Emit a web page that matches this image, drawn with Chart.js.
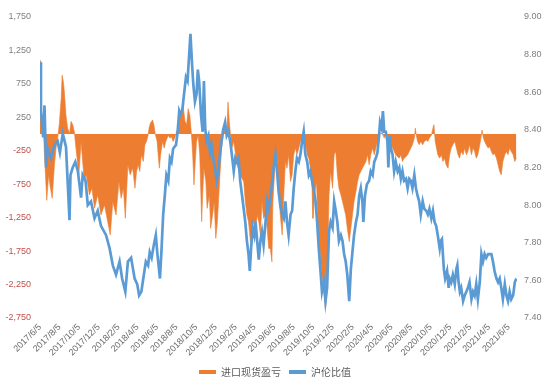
<!DOCTYPE html>
<html>
<head>
<meta charset="utf-8">
<script src="https://cdn.jsdelivr.net/npm/chart.js@4"></script>
<style>
html,body{margin:0;padding:0;background:#fff;}
#wrap{position:relative;width:550px;height:387px;}
</style>
</head>
<body>
<div id="wrap"><canvas id="c"></canvas></div>
<script>
// ---- data (days counted from 2017/6/5) ----
const startDate = '2017/6/5';
const tickLabels = ['2017/6/5','2017/8/5','2017/10/5','2017/12/5','2018/2/5','2018/4/5','2018/6/5','2018/8/5','2018/10/5','2018/12/5','2019/2/5','2019/4/5','2019/6/5','2019/8/5','2019/10/5','2019/12/5','2020/2/5','2020/4/5','2020/6/5','2020/8/5','2020/10/5','2020/12/5','2021/2/5','2021/4/5','2021/6/5'];
const leftTicks = [1750,1250,750,250,-250,-750,-1250,-1750,-2250,-2750];
const rightTicks = [9.0,8.8,8.6,8.4,8.2,8.0,7.8,7.6,7.4];

const pnlDays = [
0,2,6,10,14,21,27,31,38,45,50,55,60,66,69,73,76,81,86,92,97,102,107,112,121,128,133,138,144,154,162,170,180,190,201,211,219,227,237,246,253,260,266,274,281,289,
296,301,306,311,316,322,327,332,337,340,344,351,355,359,365,372,376,382,387,392,400,405,410,415,420,426,431,436,441,446,452,457,462,467,472,476,480,484,488,493,498,504,507,511,517,521,528,532,538,543,548,553,557,561,566,571,577,582,586,590,
598,604,614,624,635,640,645,650,656,661,666,671,677,682,687,692,697,703,708,713,718,723,726,731,735,739,744,749,755,760,765,770,775,781,786,791,796,801,807,812,817,822,827,833,838,843,848,851,856,862,866,870,874,879,885,890,895,
901,906,912,917,922,927,932,938,943,948,953,958,964,969,974,979,985,990,995,1000,1005,1011,1016,1021,1026,1031,1037,1042,1047,1052,1057,1063,1068,1073,1078,1083,1089,1094,1099,1104,1109,1115,1120,1125,1130,1135,1141,1146,1151,1156,1161,1167,1170,1173,1177,1182,1187,1193,1198,
1204,1209,1214,1220,1225,1228,1232,1236,1240,1246,1251,1256,1261,1266,1272,1277,1282,1287,1293,1298,1303,1308,1313,1319,1324,1329,1334,1339,1345,1350,1355,1360,1365,1371,1376,1378,1382,1386,1391,1397,1402,1407,1412,1417,1423,1428,1433,1438,1443,1449,1454,1459,1464,1469,1475,1480,1485];
const pnlValues = [
1100,320,260,120,-310,-990,-610,-760,-960,-460,-210,-60,140,530,880,780,630,280,90,10,190,140,40,-210,-610,-120,-410,-710,-610,-910,-810,-1110,-910,-1210,-1060,-1310,-1510,-1010,-1210,-710,-960,-810,-1260,-460,-610,-510,
-810,-560,-460,-560,-310,-410,-160,-110,-20,90,160,210,140,10,-110,-510,-310,-110,-210,-110,-20,-60,-40,-110,-60,40,90,280,330,430,190,140,380,280,10,-310,-760,-410,-110,-20,-310,-1310,-910,-510,-710,-1110,-910,-1410,-1210,-1010,-1560,-1310,-960,-610,-210,-20,140,-20,480,190,
-210,-110,-460,-610,-710,-1010,-1210,-1310,-1610,-1410,-1310,-1510,-1210,-1310,-1510,-1010,-1260,-1210,-1410,-1710,-1710,-1910,-1010,-610,-260,-360,-810,-1210,-1510,-910,-410,-510,-310,-710,-610,-310,-210,-310,-210,-110,-60,10,-110,-310,-360,-510,-810,-1260,-910,-710,-1310,-1610,-1810,-2110,-2360,-2610,-2310,
-910,-560,-810,-310,-260,-610,-810,-910,-1010,-1110,-1210,-1410,-1610,-1410,-1210,-1010,-860,-710,-610,-560,-510,-460,-410,-310,-460,-310,-210,-310,-210,-110,-20,10,10,-60,10,-60,-20,-110,-210,-260,-310,-340,-360,-310,-410,-360,-340,-310,-260,-210,-160,-60,90,-20,-110,-160,-110,-160,-110,
-90,-110,-60,-20,90,140,-110,-210,-310,-360,-310,-410,-360,-460,-510,-310,-210,-160,-110,-210,-310,-360,-260,-310,-210,-310,-260,-160,-310,-210,-260,-360,-310,-160,-20,60,-60,-110,-160,-210,-190,-260,-310,-290,-360,-460,-560,-610,-410,-310,-260,-310,-210,-260,-310,-410,-360];

const ratioDays = [
0,3,10,14,19,24,34,45,55,62,71,81,92,95,102,110,118,128,133,142,149,159,170,180,190,206,217,227,237,248,256,266,274,284,295,
303,309,316,322,330,337,342,348,355,361,366,374,379,384,389,394,400,405,410,415,424,429,434,438,444,449,455,460,465,469,474,478,483,488,492,496,502,507,511,515,519,525,530,535,540,545,551,556,561,566,571,577,582,587,
593,598,604,609,614,619,624,630,635,640,645,650,654,658,663,668,672,677,682,687,692,697,703,708,713,718,723,729,734,739,744,749,755,760,765,770,775,781,786,791,796,801,807,812,817,822,827,833,838,843,848,853,859,864,869,874,879,885,890,895,
901,906,912,917,922,927,932,938,943,948,953,958,964,969,974,979,985,990,995,1000,1005,1008,1013,1019,1026,1031,1037,1042,1047,1052,1057,1060,1065,1069,1073,1078,1083,1086,1090,1094,1099,1104,1109,1115,1120,1125,1130,1135,1141,1146,1151,1156,1161,1167,1172,1177,1182,1187,1193,1198,
1204,1209,1214,1220,1225,1230,1235,1240,1246,1249,1253,1256,1259,1263,1269,1274,1277,1282,1287,1293,1298,1301,1305,1309,1313,1319,1324,1329,1334,1339,1345,1350,1355,1360,1365,1371,1376,1381,1386,1391,1397,1402,1407,1412,1417,1423,1428,1433,1438,1443,1449,1454,1459,1464,1469,1475,1480,1485];
const ratioValues = [
8.76,8.50,8.36,8.53,8.20,8.30,8.25,8.32,8.34,8.28,8.38,8.31,7.92,8.16,8.20,8.23,8.18,8.04,8.16,8.13,8.00,8.02,7.93,7.97,7.89,7.84,7.77,7.68,7.63,7.70,7.61,7.54,7.70,7.72,7.61,
7.58,7.52,7.54,7.61,7.70,7.68,7.75,7.72,7.79,7.84,7.74,7.61,7.77,7.95,8.05,8.16,8.13,8.25,8.23,8.30,8.32,8.39,8.50,8.48,8.51,8.59,8.68,8.66,8.80,8.91,8.75,8.64,8.55,8.59,8.72,8.66,8.48,8.39,8.66,8.41,8.34,8.37,8.28,8.32,8.25,8.20,8.13,8.18,8.27,8.34,8.40,8.44,8.37,8.39,
8.34,8.27,8.18,8.25,8.23,8.25,8.13,8.05,7.98,7.91,7.81,7.74,7.65,7.77,7.88,7.84,7.91,7.81,7.71,7.81,7.86,7.79,7.91,8.02,7.98,8.04,8.11,8.21,8.27,8.18,8.07,8.00,7.95,7.93,8.02,7.91,7.84,7.95,7.97,8.09,8.18,8.25,8.23,8.27,8.34,8.39,8.27,8.23,8.16,8.18,8.13,8.09,8.02,7.91,7.77,7.66,7.54,7.59,7.49,7.56,
7.86,7.91,7.88,8.02,7.97,7.91,7.81,7.84,7.81,7.74,7.70,7.63,7.49,7.66,7.75,7.84,7.91,7.95,8.05,8.09,8.02,7.91,8.05,8.11,8.13,8.18,8.16,8.23,8.25,8.28,8.37,8.44,8.41,8.50,8.39,8.39,8.34,8.20,8.37,8.30,8.27,8.18,8.23,8.18,8.20,8.14,8.18,8.13,8.14,8.09,8.14,8.13,8.09,8.16,8.09,8.05,8.02,7.95,8.02,7.98,
7.97,7.95,7.98,7.93,7.97,7.91,7.89,7.84,7.77,7.81,7.82,7.74,7.66,7.61,7.65,7.56,7.61,7.59,7.63,7.58,7.66,7.68,7.59,7.54,7.56,7.49,7.52,7.54,7.56,7.59,7.50,7.54,7.52,7.58,7.50,7.59,7.74,7.70,7.74,7.72,7.74,7.74,7.74,7.70,7.65,7.61,7.59,7.61,7.56,7.50,7.58,7.52,7.49,7.54,7.50,7.52,7.59,7.61];

// ---- helpers ----
function dayOf(s){const p=s.split('/').map(Number);return Date.UTC(p[0],p[1]-1,p[2]);}
const t0 = dayOf(startDate);
const tickDays = tickLabels.map(s => Math.round((dayOf(s)-t0)/86400000));
function pairs(xs, ys){const n=Math.min(xs.length,ys.length);const out=[];for(let i=0;i<n;i++)out.push({x:xs[i],y:ys[i]});return out;}

const ORANGE='#ED7D31', BLUE='#5B9BD5';
Chart.defaults.font.family = "'Liberation Sans','Noto Sans CJK SC',sans-serif";
Chart.defaults.animation = false;

new Chart(document.getElementById('c'), {
  type: 'line',
  data: {
    datasets: [
      {label:'进口现货盈亏', data:pairs(pnlDays,pnlValues), yAxisID:'y', order:2,
       borderColor:ORANGE, backgroundColor:ORANGE, borderWidth:0.6, pointRadius:0, fill:'origin', tension:0},
      {label:'沪伦比值', data:pairs(ratioDays,ratioValues), yAxisID:'y1', order:1,
       borderColor:BLUE, backgroundColor:BLUE, borderWidth:2.7, pointRadius:0, fill:false, tension:0}
    ]
  },
  options: {
    responsive:true, maintainAspectRatio:false, devicePixelRatio:1,
    layout:{padding:{top:17,left:0,right:0,bottom:0}},
    plugins:{
      tooltip:{enabled:false},
      legend:{position:'bottom', labels:{
        font:{size:10,family:"'Noto Sans CJK SC',sans-serif"}, color:'#595959', boxWidth:17, boxHeight:4, padding:8,
        sort:(a,b)=>a.datasetIndex-b.datasetIndex,
        generateLabels:(chart)=>Chart.defaults.plugins.legend.labels.generateLabels(chart).map(l=>Object.assign(l,{lineWidth:0}))
      }}
    },
    scales:{
      x:{type:'linear', min:0, max:1487,
        grid:{display:false, drawTicks:false}, border:{display:false},
        afterBuildTicks:s=>{s.ticks=tickDays.map(v=>({value:v}));},
        afterFit:s=>{s.height=41;},
        ticks:{autoSkip:false, maxRotation:45, minRotation:45, padding:4, color:'#6b6b6b', font:{size:9},
          callback:(v)=>{const i=tickDays.indexOf(v);return i>=0?tickLabels[i]:'';}}
      },
      y:{position:'left', min:-2750, max:1750,
        grid:{display:false, drawTicks:false}, border:{display:false},
        afterBuildTicks:s=>{s.ticks=leftTicks.map(v=>({value:v}));},
        afterFit:s=>{s.width=40;},
        ticks:{padding:9, font:{size:9},
          color:(ctx)=>ctx.tick && ctx.tick.value<0 ? '#C0504D' : '#7F7F7F',
          callback:(v)=>v.toLocaleString('en-US')}
      },
      y1:{position:'right', min:7.4, max:9.0,
        grid:{display:false, drawTicks:false}, border:{display:false},
        afterBuildTicks:s=>{s.ticks=rightTicks.map(v=>({value:v}));},
        afterFit:s=>{s.width=33;},
        ticks:{padding:7, font:{size:9}, color:'#7F7F7F', callback:(v)=>Number(v).toFixed(2)}
      }
    }
  }
});
</script>
</body>
</html>
